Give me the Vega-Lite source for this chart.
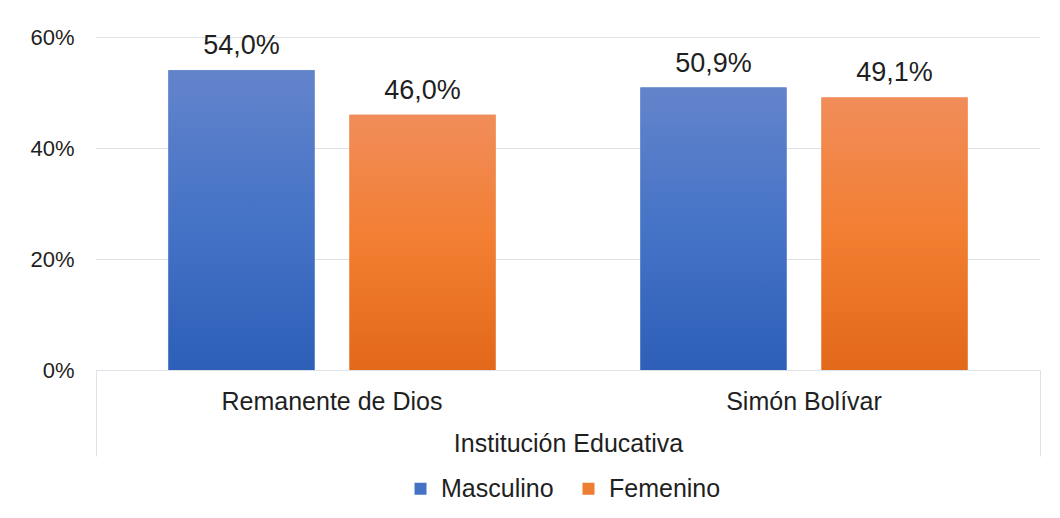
{
  "$schema": "https://vega.github.io/schema/vega-lite/v6.json",
  "width": 944,
  "height": 333,
  "autosize": "none",
  "padding": {"left": 96, "top": 37, "right": 20, "bottom": 148},
  "background": "white",
  "config": {
    "locale": {"number": {"decimal": ",", "thousands": ".", "grouping": [3], "currency": ["", " €"]}},
    "view": {"stroke": null},
    "font": "Liberation Sans"
  },
  "data": {
    "values": [
      {"Institucion": "Remanente de Dios", "Genero": "Masculino", "Porcentaje": 0.54},
      {"Institucion": "Remanente de Dios", "Genero": "Femenino", "Porcentaje": 0.46},
      {"Institucion": "Simón Bolívar", "Genero": "Masculino", "Porcentaje": 0.509},
      {"Institucion": "Simón Bolívar", "Genero": "Femenino", "Porcentaje": 0.491}
    ]
  },
  "encoding": {
    "x": {
      "field": "Institucion",
      "type": "nominal",
      "sort": ["Remanente de Dios", "Simón Bolívar"],
      "scale": {"paddingInner": 0, "paddingOuter": 0},
      "axis": {
        "title": "Institución Educativa",
        "labelAngle": 0,
        "labelLimit": 0,
        "domainColor": "#DDE1E8",
        "tickColor": "#DDE1E8",
        "tickSize": 86,
        "bandPosition": 1,
        "tickExtra": true,
        "tickOpacity": {"condition": {"test": "datum.value === 'Remanente de Dios'", "value": 0}, "value": 1},
        "labelPadding": -67,
        "labelFontSize": 25,
        "labelColor": "#1F1F1F",
        "titleFontSize": 25,
        "titleFontWeight": "normal",
        "titleColor": "#1F1F1F",
        "titleY": 61,
        "titleBaseline": "top",
        "grid": false
      }
    },
    "xOffset": {
      "field": "Genero",
      "type": "nominal",
      "sort": ["Masculino", "Femenino"],
      "scale": {"paddingInner": 0.193, "paddingOuter": 0.4}
    },
    "y": {
      "field": "Porcentaje",
      "type": "quantitative",
      "scale": {"domain": [0, 0.6]},
      "axis": {
        "title": null,
        "format": ".0%",
        "values": [0, 0.2, 0.4, 0.6],
        "domain": false,
        "ticks": false,
        "labelPadding": 22,
        "labelFontSize": 22,
        "labelColor": "#1F1F1F",
        "gridColor": "#DDE1E8",
        "gridWidth": 1
      }
    }
  },
  "layer": [
    {
      "mark": {"type": "bar"},
      "encoding": {
        "color": {
          "field": "Genero",
          "type": "nominal",
          "sort": ["Masculino", "Femenino"],
          "scale": {"domain": ["Masculino", "Femenino"], "range": ["#4472C4", "#ED7D31"]},
          "legend": {
            "title": null,
            "orient": "none",
            "legendX": 312,
            "legendY": 439,
            "direction": "horizontal",
            "symbolType": "square",
            "symbolSize": 144,
            "symbolStrokeWidth": 0,
            "labelFontSize": 25,
            "labelColor": "#1F1F1F",
            "labelOffset": 8,
            "columnPadding": 22
          }
        }
      }
    },
    {
      "mark": {"type": "bar"},
      "encoding": {
        "fill": {
          "condition": {
            "test": "datum.Genero === 'Masculino'",
            "value": {
              "gradient": "linear", "x1": 0, "y1": 0, "x2": 0, "y2": 1,
              "stops": [
                {"offset": 0, "color": "#6384CB"},
                {"offset": 0.5, "color": "#4573C6"},
                {"offset": 1, "color": "#2D5FB8"}
              ]
            }
          },
          "value": {
            "gradient": "linear", "x1": 0, "y1": 0, "x2": 0, "y2": 1,
            "stops": [
              {"offset": 0, "color": "#F18D5A"},
              {"offset": 0.5, "color": "#F27E31"},
              {"offset": 1, "color": "#E2681A"}
            ]
          }
        }
      }
    },
    {
      "mark": {"type": "text", "dy": -16, "baseline": "alphabetic", "fontSize": 27, "color": "#1F1F1F"},
      "encoding": {
        "text": {"field": "Porcentaje", "type": "quantitative", "format": ".1%"}
      }
    }
  ]
}
